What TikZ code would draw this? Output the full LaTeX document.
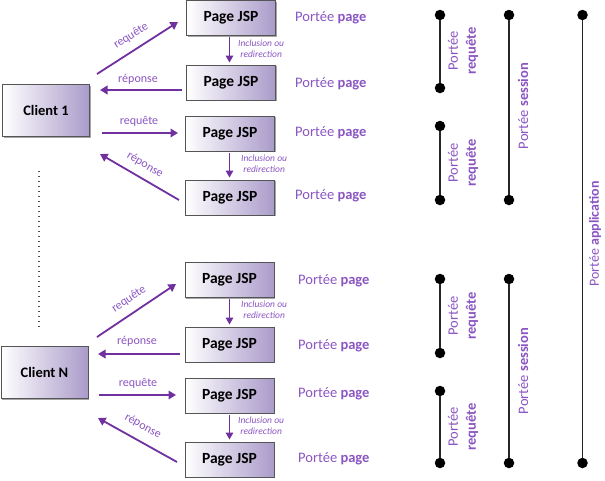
\documentclass[tikz,border=0pt]{standalone}
\usepackage{fontspec}
\setmainfont{Carlito}
\usetikzlibrary{arrows.meta,shadows,calc}
\definecolor{pur}{HTML}{7030A0}
\definecolor{purl}{HTML}{8A55C2}
\definecolor{boxr}{RGB}{170,155,202}
\definecolor{boxline}{RGB}{85,85,85}
\begin{document}
\begin{tikzpicture}[x=1pt,y=-1pt,
 jsp/.style={draw=boxline, line width=0.9pt, left color=white, right color=boxr,
   minimum width=89pt, minimum height=35pt, inner sep=0pt,
   font=\fontsize{15.5}{17}\selectfont\bfseries,
   drop shadow={shadow xshift=1.3pt, shadow yshift=-1.3pt, opacity=0.35, fill=black}},
 client/.style={jsp, minimum width=87pt, minimum height=52pt, font=\fontsize{14.5}{17}\selectfont\bfseries},
 msg/.style={draw=pur, line width=1.8pt, -{Triangle[width=8.5pt,length=7.5pt]}},
 inc/.style={draw=pur, line width=1.5pt, -{Triangle[width=7.5pt,length=7pt]}},
 lbl/.style={text=purl, font=\fontsize{12}{14}\selectfont, inner sep=0pt},
 inclbl/.style={text=purl, font=\fontsize{9.5}{11}\selectfont\itshape, align=center, anchor=west, inner sep=0pt},
 pp/.style={text=purl, font=\fontsize{14.5}{17}\selectfont, anchor=west, inner sep=0pt},
 vl/.style={text=purl, font=\fontsize{14.5}{18}\selectfont, rotate=90, align=center, inner sep=0pt},
 scopeline/.style={line width=1.3pt, draw=black!85},
 dotc/.style={circle, fill=black, minimum size=10.5pt, inner sep=0pt},
 dotline/.style={draw=black!70, line width=1.2pt, dash pattern=on 1.2pt off 3.8pt},
]
\useasboundingbox (0,0) rectangle (605,480);

% Clients
\node[client] (C1) at (46,110.5) {Client 1};
\node[client] (CN) at (44.5,372.5) {Client N};

% Pages
\node[jsp] (P1) at (231,18) {Page JSP};
\node[jsp] (P2) at (231,82.5) {Page JSP};
\node[jsp] (P3) at (230,133.5) {Page JSP};
\node[jsp] (P4) at (230,197.5) {Page JSP};
\node[jsp] (P5) at (229.5,280) {Page JSP};
\node[jsp] (P6) at (229.5,344.5) {Page JSP};
\node[jsp] (P7) at (229.5,395.5) {Page JSP};
\node[jsp] (P8) at (229.5,459.5) {Page JSP};

% dotted separator
\coordinate (dt) at (39,171);
\coordinate (db) at (39,327);
\draw[dotline] (dt) -- (db);

% message arrow endpoints
\coordinate (a1s) at (97,74);   \coordinate (a1e) at (178,22);
\coordinate (a2s) at (182,90);  \coordinate (a2e) at (100,90);
\coordinate (a3s) at (102,133); \coordinate (a3e) at (178,133);
\coordinate (a4s) at (179,200); \coordinate (a4e) at (100,154);
\coordinate (b1s) at (97,337);  \coordinate (b1e) at (176,284);
\coordinate (b2s) at (180,354); \coordinate (b2e) at (98,354);
\coordinate (b3s) at (99,395);  \coordinate (b3e) at (176,395);
\coordinate (b4s) at (177,462); \coordinate (b4e) at (98,418);

\draw[msg] (a1s) -- (a1e);
\draw[msg] (a2s) -- (a2e);
\draw[msg] (a3s) -- (a3e);
\draw[msg] (a4s) -- (a4e);
\draw[msg] (b1s) -- (b1e);
\draw[msg] (b2s) -- (b2e);
\draw[msg] (b3s) -- (b3e);
\draw[msg] (b4s) -- (b4e);

\node[lbl, rotate=32.7] (la1) at (131,36) {requête};
\node[lbl] (la2) at (138,79) {réponse};
\node[lbl] (la3) at (139,121) {requête};
\node[lbl, rotate=-30.2] (la4) at (145,165) {réponse};
\node[lbl, rotate=33.9] (lb1) at (129,299) {requête};
\node[lbl] (lb2) at (137,341) {réponse};
\node[lbl] (lb3) at (138,383) {requête};
\node[lbl, rotate=-29.1] (lb4) at (143,426) {réponse};

% inclusion arrows
\draw[inc] ([xshift=-1.5pt,yshift=-1.5pt]P1.south) -- ([xshift=-1.5pt,yshift=2pt]P2.north);
\draw[inc] ([xshift=-0.5pt,yshift=-1.5pt]P3.south) -- ([xshift=-0.5pt,yshift=2pt]P4.north);
\draw[inc] ([yshift=-1.5pt]P5.south) -- ([yshift=2pt]P6.north);
\draw[inc] ([yshift=-1.5pt]P7.south) -- ([yshift=2pt]P8.north);
\node[inclbl] (i1) at (238,48.5) {Inclusion ou\\redirection};
\node[inclbl] (i2) at (241,164) {Inclusion ou\\redirection};
\node[inclbl] (i3) at (241,310) {Inclusion ou\\redirection};
\node[inclbl] (i4) at (238,426) {Inclusion ou\\redirection};

% Portée page labels
\node[pp] (pp1) at (295,18) {Portée \textbf{page}};
\node[pp] (pp2) at (295,84) {Portée \textbf{page}};
\node[pp] (pp3) at (295,133) {Portée \textbf{page}};
\node[pp] (pp4) at (295,196) {Portée \textbf{page}};
\node[pp] (pp5) at (298,281) {Portée \textbf{page}};
\node[pp] (pp6) at (298,346) {Portée \textbf{page}};
\node[pp] (pp7) at (298,394) {Portée \textbf{page}};
\node[pp] (pp8) at (298,459) {Portée \textbf{page}};

% scope lines: requête
\node[dotc] (r1a) at (440,15) {};  \node[dotc] (r1b) at (440,88) {};
\node[dotc] (r2a) at (440,126) {}; \node[dotc] (r2b) at (440,200) {};
\node[dotc] (r3a) at (440,279) {}; \node[dotc] (r3b) at (440,353) {};
\node[dotc] (r4a) at (440,391) {}; \node[dotc] (r4b) at (440,463) {};
\draw[scopeline] (r1a) -- (r1b);
\draw[scopeline] (r2a) -- (r2b);
\draw[scopeline] (r3a) -- (r3b);
\draw[scopeline] (r4a) -- (r4b);
% session
\node[dotc] (s1a) at (509,15) {};  \node[dotc] (s1b) at (509,200) {};
\node[dotc] (s2a) at (509,279) {}; \node[dotc] (s2b) at (509,463) {};
\draw[scopeline] (s1a) -- (s1b);
\draw[scopeline] (s2a) -- (s2b);
% application
\node[dotc] (apa) at (582.5,15) {}; \node[dotc] (apb) at (582.5,463) {};
\draw[scopeline] (apa) -- (apb);

% vertical labels
\node[vl] (vr1) at (463,51) {Portée\\\textbf{requête}};
\node[vl] (vr2) at (463,163) {Portée\\\textbf{requête}};
\node[vl] (vr3) at (463,316) {Portée\\\textbf{requête}};
\node[vl] (vr4) at (463,427) {Portée\\\textbf{requête}};
\node[vl] (vs1) at (523,106) {Portée \textbf{session}};
\node[vl] (vs2) at (523,371) {Portée \textbf{session}};
\node[vl, font=\fontsize{14}{17}\selectfont] (va) at (595,234) {Portée \textbf{application}};
\end{tikzpicture}
\end{document}
